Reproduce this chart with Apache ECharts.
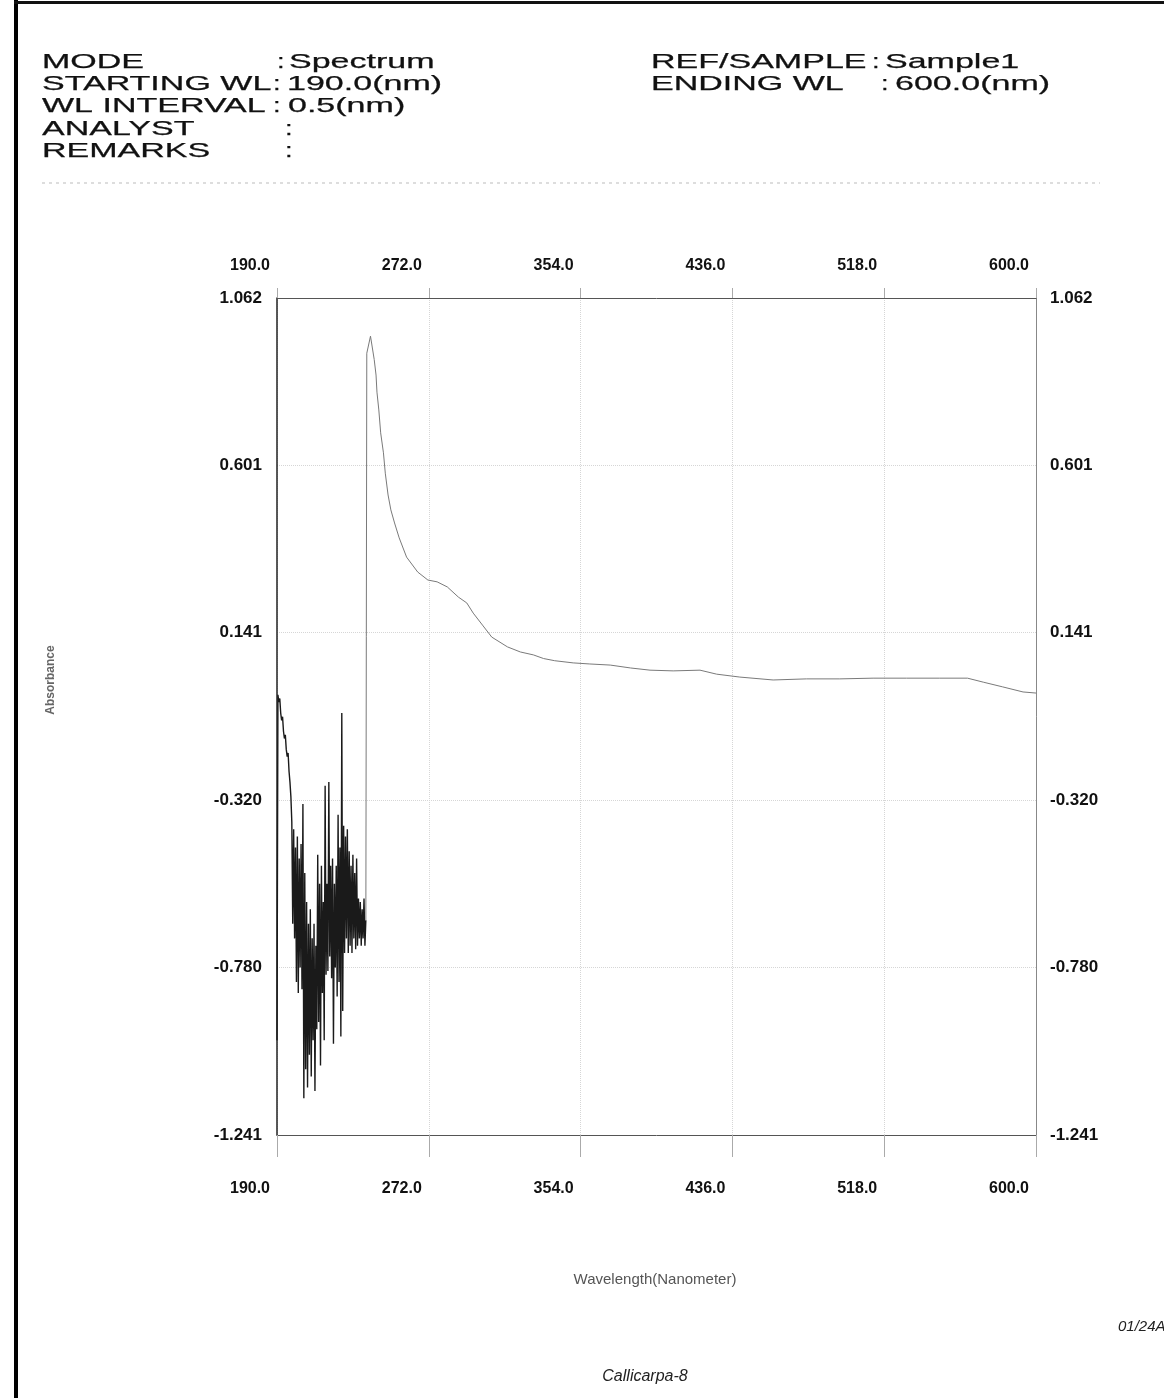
<!DOCTYPE html>
<html>
<head>
<meta charset="utf-8">
<title>Callicarpa-8</title>
<script src="https://cdn.jsdelivr.net/npm/echarts@6/dist/echarts.min.js"></script>
<style>
  html, body { margin: 0; padding: 0; background: #fff; }
  #chart { width: 1164px; height: 1398px; }
</style>
</head>
<body>
<div id="chart"></div>
<script>
// spectrum: wavelength (nm) / absorbance
const wavelengths = [
  190.0, 190.5, 191.0, 191.5, 192.0, 192.5, 193.0, 193.5, 194.0, 194.5,
  195.0, 195.5, 196.0, 196.5, 197.0, 197.5, 198.0, 198.5, 199.0, 199.5,
  200.0, 200.5, 201.0, 201.5, 202.0, 202.5, 203.0, 203.5, 204.0, 204.5,
  205.0, 205.5, 206.0, 206.5, 207.0, 207.5, 208.0, 208.5, 209.0, 209.5,
  210.0, 210.5, 211.0, 211.5, 212.0, 212.5, 213.0, 213.5, 214.0, 214.5,
  215.0, 215.5, 216.0, 216.5, 217.0, 217.5, 218.0, 218.5, 219.0, 219.5,
  220.0, 220.5, 221.0, 221.5, 222.0, 222.5, 223.0, 223.5, 224.0, 224.5,
  225.0, 225.5, 226.0, 226.5, 227.0, 227.5, 228.0, 228.5, 229.0, 229.5,
  230.0, 230.5, 231.0, 231.5, 232.0, 232.5, 233.0, 233.5, 234.0, 234.5,
  235.0, 235.5, 236.0, 236.5, 237.0, 237.5, 238.0,
  238.5, 240.5, 242.5, 243.5, 244.0, 245.0, 246.0, 247.5, 248.5, 250.0,
  251.5, 253.5, 256.0, 260.0, 266.0, 271.5, 276.5, 282.0, 288.0, 292.5,
  296.0, 301.0, 306.0, 314.5, 321.5, 328.5, 334.0, 340.0, 350.0, 359.0,
  370.0, 381.0, 391.5, 404.0, 418.5, 427.5, 440.0, 458.0, 476.0, 494.0,
  512.0, 530.0, 548.0, 563.0, 571.5, 582.0, 593.0, 600.0
];
const absorbance = [
  -0.98, -0.03, -0.05, -0.04, -0.08, -0.10, -0.09, -0.13, -0.15, -0.14,
  -0.18, -0.20, -0.19, -0.24, -0.27, -0.31, -0.38, -0.66, -0.40, -0.70,
  -0.45, -0.82, -0.42, -0.85, -0.48, -0.78, -0.44, -0.84, -0.33, -1.14,
  -0.52, -1.06, -0.60, -1.11, -0.66, -1.02, -0.62, -1.08, -0.70, -0.98,
  -0.66, -1.12, -0.72, -0.95, -0.47, -0.93, -0.55, -1.05, -0.50, -0.85,
  -0.60, -0.98, -0.28, -0.80, -0.55, -0.79, -0.27, -0.75, -0.50, -0.81,
  -0.48, -0.99, -0.55, -0.78, -0.50, -0.86, -0.36, -0.82, -0.45, -0.97,
  -0.08, -0.90, -0.39, -0.74, -0.42, -0.70, -0.40, -0.74, -0.46, -0.72,
  -0.50, -0.74, -0.47, -0.70, -0.52, -0.73, -0.48, -0.72, -0.59, -0.70,
  -0.60, -0.72, -0.62, -0.70, -0.59, -0.72, -0.65,
  0.910, 0.957, 0.893, 0.850, 0.803, 0.754, 0.691, 0.636, 0.580, 0.520,
  0.479, 0.443, 0.402, 0.349, 0.308, 0.286, 0.281, 0.267, 0.239, 0.223,
  0.195, 0.162, 0.129, 0.102, 0.088, 0.080, 0.070, 0.064, 0.058, 0.055,
  0.052, 0.044, 0.038, 0.036, 0.038, 0.027, 0.019, 0.011, 0.014, 0.014,
  0.016, 0.016, 0.016, 0.016, 0.005, -0.008, -0.022, -0.025
];
// last sample of the noisy UV part (238.0 nm)
const noiseEnd = 96;

const xTicks = [190.0, 272.0, 354.0, 436.0, 518.0, 600.0];
const yTicks = [-1.241, -0.780, -0.320, 0.141, 0.601, 1.062];

const headerLabels = ['MODE', 'STARTING WL', 'WL INTERVAL', 'ANALYST', 'REMARKS'];
const headerValues = ['Spectrum', '190.0(nm)', '0.5(nm)', '', ''];
const headerLabelsRight = ['REF/SAMPLE', 'ENDING WL'];
const headerValuesRight = ['Sample1', '600.0(nm)'];

const chart = echarts.init(document.getElementById('chart'));

const tickFont = {
  fontFamily: '"Liberation Sans", Arial, sans-serif',
  fontWeight: 'bold',
  color: '#111'
};

function xAxisCfg(position, margin, tickLen) {
  return {
    type: 'value',
    position: position,
    min: 190,
    max: 600,
    axisLine: { show: true, onZero: false, lineStyle: { color: '#555', width: 1 } },
    axisTick: {
      show: true,
      customValues: xTicks,
      length: tickLen,
      lineStyle: { color: '#aaa', width: 1 }
    },
    axisLabel: Object.assign({
      customValues: xTicks,
      formatter: function (v) { return v.toFixed(1); },
      margin: margin,
      fontSize: 16,
      padding: [0, 54, 0, 0]
    }, tickFont),
    splitLine: {
      show: position === 'bottom',
      lineStyle: { color: '#d6d6d6', type: 'dotted', width: 1 }
    }
  };
}

function yAxisCfg(position, margin, padTop, lineColor) {
  return {
    type: 'value',
    position: position,
    min: -1.241,
    max: 1.062,
    axisLine: { show: true, onZero: false, lineStyle: { color: lineColor, width: position === 'left' ? 1.5 : 1 } },
    axisTick: { show: false, customValues: yTicks },
    axisLabel: Object.assign({
      customValues: yTicks,
      formatter: function (v) { return v.toFixed(3); },
      margin: margin,
      fontSize: 17,
      padding: [padTop, 0, 0, 0]
    }, tickFont),
    splitLine: {
      show: position === 'left',
      lineStyle: { color: '#d6d6d6', type: 'dotted', width: 1 }
    }
  };
}

// the printout font is stretched sideways
function headerText(text, x, y, scaleX) {
  return {
    type: 'text', x: x, y: y, scaleX: scaleX,
    style: {
      text: text, font: '21px "Liberation Sans", Arial, sans-serif',
      fill: '#111', stroke: '#111', lineWidth: 0.25, verticalAlign: 'middle'
    }
  };
}

const graphics = [
  // scan frame edges
  { type: 'rect', shape: { x: 14, y: 0, width: 4, height: 1398 }, style: { fill: '#000' } },
  { type: 'rect', shape: { x: 14, y: 1, width: 1150, height: 3 }, style: { fill: '#111' } },
  // dotted separator under header
  { type: 'line', shape: { x1: 42, y1: 183, x2: 1100, y2: 183 }, style: { stroke: '#bbb', lineWidth: 1, lineDash: [3, 4] } },
  // axis names and footer
  { type: 'text', x: 51, y: 680, rotation: Math.PI / 2,
    style: { text: 'Absorbance', font: 'bold 12px "Liberation Sans", Arial, sans-serif', fill: '#666', align: 'center', verticalAlign: 'middle' } },
  { type: 'text', x: 655, y: 1280,
    style: { text: 'Wavelength(Nanometer)', font: '15px "Liberation Sans", Arial, sans-serif', fill: '#555', align: 'center', verticalAlign: 'middle' } },
  { type: 'text', x: 1118, y: 1327,
    style: { text: '01/24A', font: 'italic 15px "Liberation Sans", Arial, sans-serif', fill: '#222', align: 'left', verticalAlign: 'middle' } },
  { type: 'text', x: 645, y: 1377,
    style: { text: 'Callicarpa-8', font: 'italic 16px "Liberation Sans", Arial, sans-serif', fill: '#222', align: 'center', verticalAlign: 'middle' } }
];

const headerScale = 1.62;
const colonX = [277, 273, 273, 285, 285];
const valueX = [289, 287, 288, 0, 0];
headerLabels.forEach(function (label, i) {
  const y = 62 + i * 22.25;
  graphics.push(headerText(label, 42, y, headerScale));
  graphics.push(headerText(':', colonX[i], y, 1.3));
  if (headerValues[i]) {
    graphics.push(headerText(headerValues[i], valueX[i], y, headerScale));
  }
});
const rColonX = [872, 881];
const rValueX = [885, 895];
headerLabelsRight.forEach(function (label, i) {
  const y = 62 + i * 22.25;
  graphics.push(headerText(label, 651, y, headerScale));
  graphics.push(headerText(':', rColonX[i], y, 1.3));
  graphics.push(headerText(headerValuesRight[i], rValueX[i], y, headerScale));
});

const points = wavelengths.map(function (w, i) { return [w, absorbance[i]]; });

const option = {
  animation: false,
  backgroundColor: '#fff',
  grid: { left: 277, top: 298, width: 759, height: 837, outerBoundsMode: 'none' },
  xAxis: [xAxisCfg('bottom', 46, 22), xAxisCfg('top', 24, 10)],
  yAxis: [yAxisCfg('left', 15, 24, '#222'), yAxisCfg('right', 14, 14, '#888')],
  graphic: graphics,
  series: [
    {
      // noisy part below 238 nm, prints dark
      type: 'line',
      data: points.slice(0, noiseEnd + 1),
      showSymbol: false,
      symbol: 'none',
      silent: true,
      lineStyle: { color: '#1a1a1a', width: 1.4 }
    },
    {
      type: 'line',
      data: points.slice(noiseEnd),
      showSymbol: false,
      symbol: 'none',
      silent: true,
      lineStyle: { color: '#7a7a7a', width: 1 }
    }
  ]
};

chart.setOption(option);
</script>
</body>
</html>
